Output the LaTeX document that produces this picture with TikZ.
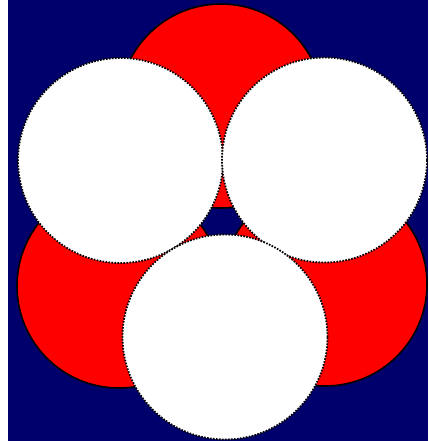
\documentclass[tikz,border=0pt]{standalone}
\usepackage{tikz}
\definecolor{navy}{HTML}{00006C}
\definecolor{red}{HTML}{FF0000}
\tikzset{
  every picture/.style={line join=round, line cap=round},
  redball/.style={circle, draw=black, fill=red, line width=1.6pt, minimum size=204pt, inner sep=0pt},
  whiteball/.style={circle, draw=black, fill=white, line width=1.8pt, line cap=butt, dash pattern=on 1.6pt off 1.4pt, minimum size=205pt, inner sep=0pt},
}

\begin{document}
\begin{tikzpicture}[x=1pt,y=-1pt]
\useasboundingbox (0,0) rectangle (428,441);
\fill[navy](8,0) rectangle (428,441);
\begin{scope}
\clip(8,0) rectangle (428,441);
% red circles
\node[redball](redtop) at (221,106){};
\node[redball](redleft) at (119,286){};
\node[redball](redright) at (325,284){};
% white circles
\node[whiteball](whiteleft) at (120.5,160.5){};
\node[whiteball](whiteright) at (324.5,160){};
\node[whiteball](whitebottom) at (225,337){};
\end{scope}
\end{tikzpicture}
\end{document}
